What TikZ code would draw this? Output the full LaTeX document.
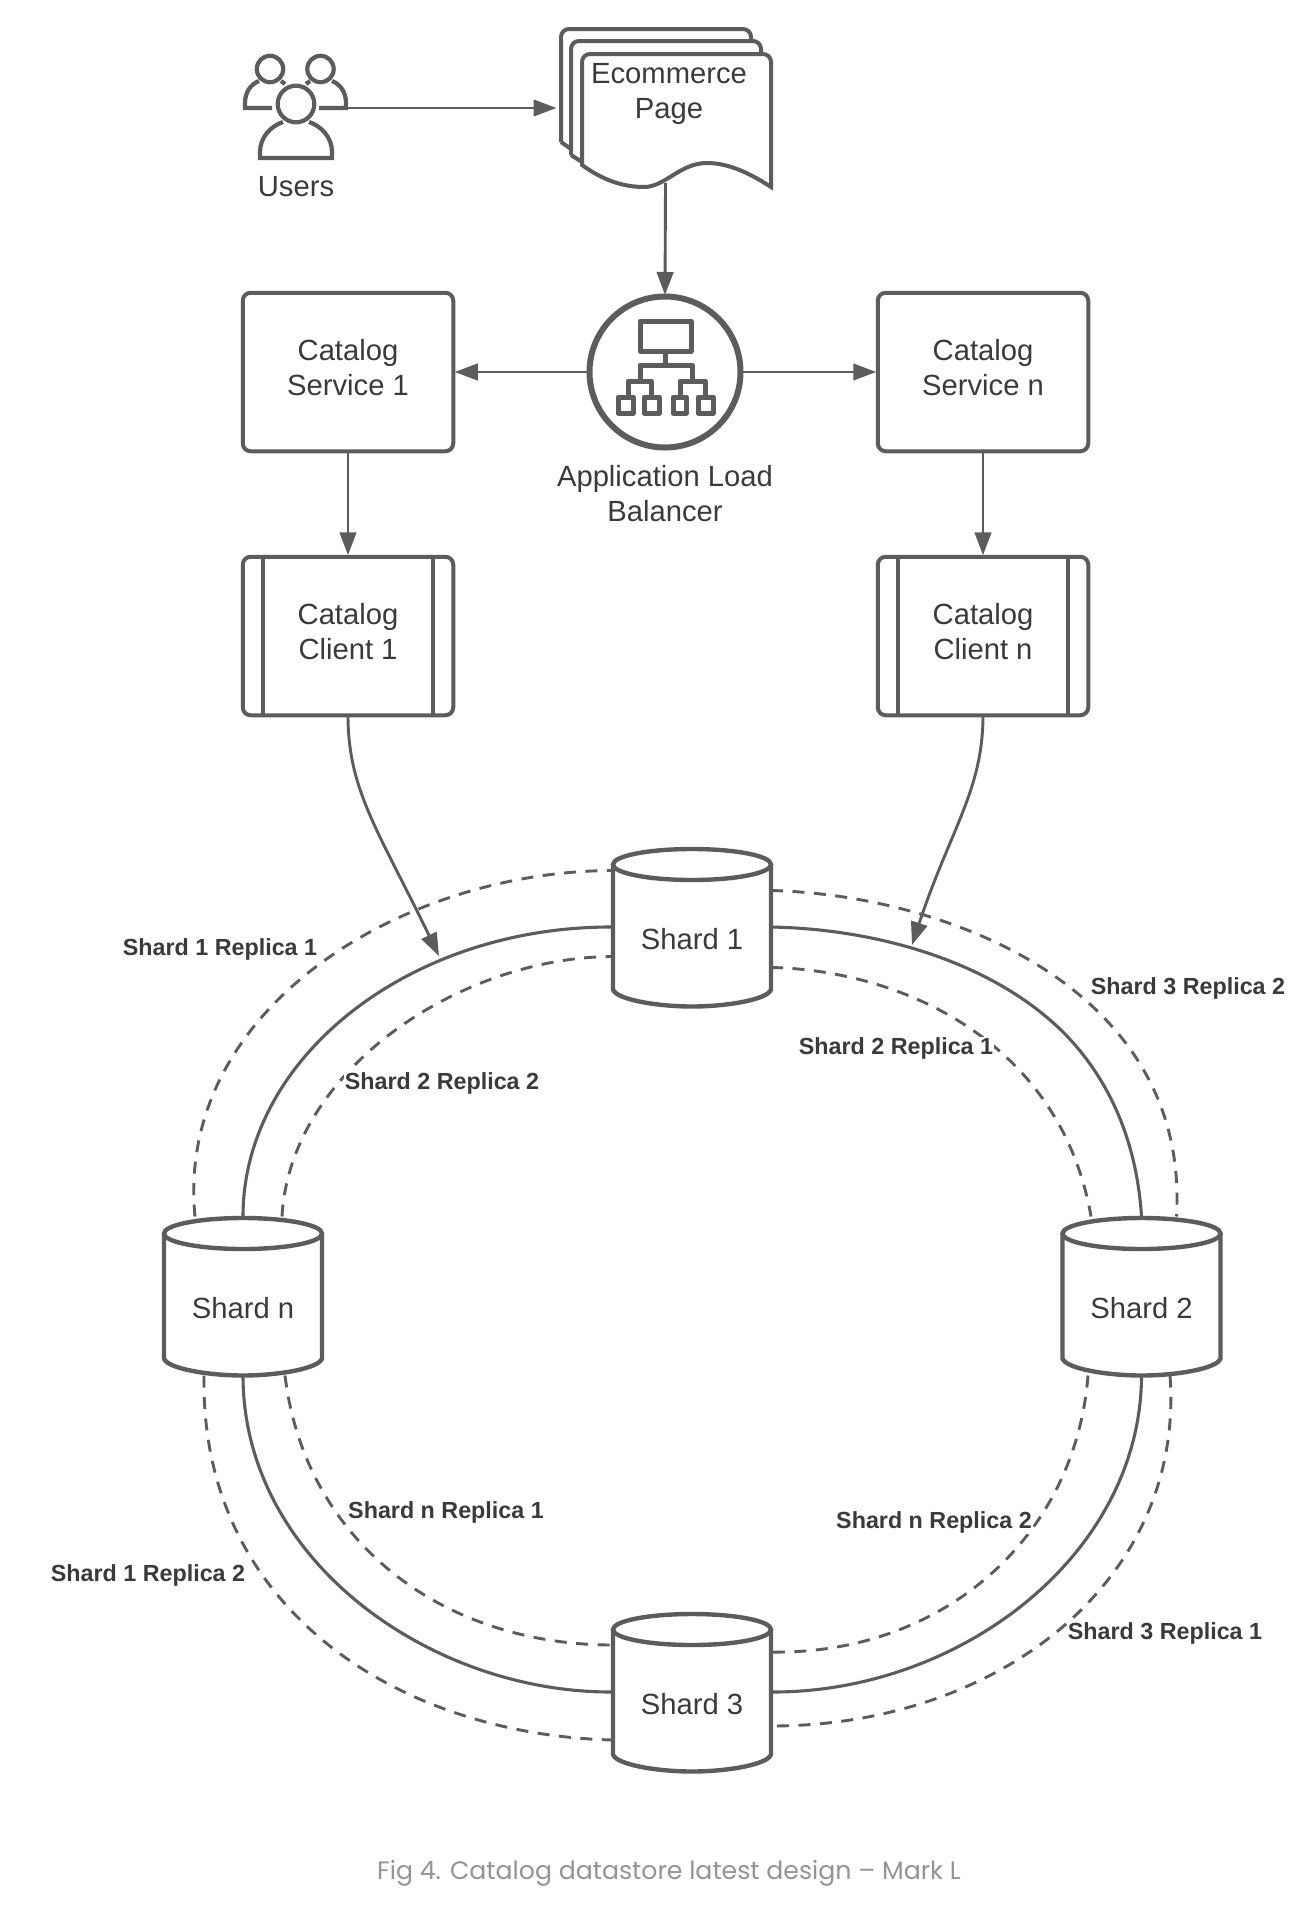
\documentclass[tikz,border=0pt]{standalone}
\usepackage{fontspec}
\setmainfont{Liberation Sans}
\newfontfamily\capfont{Poppins}
\usetikzlibrary{arrows.meta,calc}
\definecolor{ink}{HTML}{5C5C5C}
\definecolor{txt}{HTML}{3A3A3A}
\definecolor{cap}{HTML}{949494}
\newcommand{\lowpad}{\rule[-10pt]{0pt}{10pt}}
\tikzset{
  shape line/.style={draw=ink,line width=4pt,fill=white},
  box/.style={shape line,rounded corners=8pt,minimum width=210.5pt,minimum height=158.5pt,inner sep=0pt,outer sep=0pt,text=txt,align=center,font=\fontsize{29.2}{35}\selectfont},
  plain/.style={text=txt,align=center,inner sep=0pt,font=\fontsize{29.2}{35}\selectfont},
  ghost/.style={inner sep=0pt,outer sep=0pt,text=txt},
  conn/.style={draw=ink,line width=2.9pt,-{Triangle[length=23pt,width=16.5pt]},shorten >=1.5pt},
  ringline/.style={draw=ink,line width=3.1pt},
  dashline/.style={draw=ink,line width=2.9pt,dash pattern=on 12pt off 9.5pt},
  tag/.style={text=txt,fill=white,inner sep=1pt,font=\fontsize{23.3}{28}\selectfont\bfseries},
  icon/.style={draw=ink,line width=4.2pt,line cap=butt},
  albicon/.style={draw=ink,line width=5pt,line join=round},
}
\newcommand{\shardcyl}[4]{%
  \begin{scope}[shift={(#2,#3)}]
    \draw[shape line,line width=4.4pt,line join=round] (-79,17) -- (-79,142) .. controls (-76,152) and (-35,159) .. (0,159) .. controls (35,159) and (76,152) .. (79,142) -- (79,17);
    \draw[shape line,line width=4.4pt] (0,17) ellipse[x radius=79,y radius=15.5];
    \node[ghost,minimum width=158pt,minimum height=159pt] (#1) at (0,79.5) {};
    \node[plain] (#1text) at (0,92) {#4};
  \end{scope}}
\begin{document}
\begin{tikzpicture}[x=1pt,y=-1pt]
\useasboundingbox[fill=white] (0,0) rectangle (1300,1914);

% users
\node[ghost,minimum width=104pt,minimum height=100pt] (users) at (295,108) {};
\node[plain] (userstext) at (296,187) {Users};
\draw[icon] (270,69) circle[radius=13.2];
\draw[icon] (320.5,69) circle[radius=13.2];
\draw[icon] (272,108) -- (245,108) -- (245,103) .. controls (245,92) and (251,84) .. (259,81);
\draw[icon] (319,108) -- (346,108) -- (346,103) .. controls (346,92) and (340,84) .. (332,81);
\draw[icon] (281,81) -- (285,84);
\draw[icon] (310,81) -- (306,84);
\draw[icon] (296,104) circle[radius=18.3];
\draw[icon,line join=miter] (283,122) .. controls (271,126) and (260,137) .. (260,152) -- (260,158) -- (332,158) -- (332,152) .. controls (332,137) and (321,126) .. (309,122);

% ecommerce page stack
\node[ghost,minimum width=215pt,minimum height=150pt] (page) at (665.5,108) {};
\draw[draw=ink,line width=4pt,rounded corners=8pt] (561,142) -- (561,29) -- (751,29) -- (751,50);
\draw[draw=ink,line width=4pt] (561,142) -- (571,149);
\fill[white] (571,41) rectangle (761,155);
\draw[draw=ink,line width=4pt,rounded corners=8pt] (571,155) -- (571,41) -- (761,41) -- (761,60);
\draw[draw=ink,line width=4pt] (571,155) -- (582,162);
\draw[shape line,line join=miter] (582,165) [rounded corners=8pt] -- (582,54) -- (771,54) [sharp corners] -- (771,187) .. controls (745,170) and (725,163) .. (707,163) .. controls (680,163) and (665,187) .. (644,187) .. controls (620,187) and (600,178) .. (582,165) -- cycle;
\node[plain] (pagetext) at (669,93.5) {Ecommerce\\Page};

% load balancer
\node[circle,draw=ink,line width=6pt,fill=white,minimum size=151pt,inner sep=0pt,outer sep=0pt] (alb) at (665,372) {};
\node[plain] (albtext) at (665,494) {Application Load\\Balancer};
\draw[albicon] (640,321) rectangle (691,351);
\draw[albicon] (665,351) -- (665,365);
\draw[albicon] (640,380) -- (640,365) -- (692,365) -- (692,380);
\draw[albicon] (628,396) -- (628,381) -- (651,381) -- (651,396);
\draw[albicon] (680,396) -- (680,381) -- (705,381) -- (705,396);
\draw[albicon] (618,397) rectangle (633,413);
\draw[albicon] (644,397) rectangle (659,413);
\draw[albicon] (673,397) rectangle (686,413);
\draw[albicon] (698,397) rectangle (713,413);

% services and clients
\node[box] (svc1) at (348,372) {Catalog\\Service 1\lowpad};
\node[box] (svcn) at (983,372) {Catalog\\Service n\lowpad};
\node[box] (cli1) at (348,636) {Catalog\\Client 1\lowpad};
\node[box] (clin) at (983,636) {Catalog\\Client n\lowpad};
\foreach \c in {cli1,clin}{
  \draw[draw=ink,line width=4pt] ([xshift=20pt]\c.north west) -- ([xshift=20pt]\c.south west);
  \draw[draw=ink,line width=4pt] ([xshift=-20.5pt]\c.north east) -- ([xshift=-20.5pt]\c.south east);
}

% shards
\shardcyl{s1}{692}{847.5}{Shard 1}
\shardcyl{sn}{243}{1216.5}{Shard n}
\shardcyl{s2}{1141.5}{1216.5}{Shard 2}
\shardcyl{s3}{692}{1612.5}{Shard 3}

% top connectors
\draw[conn] (users.east) -- (page.west);
\draw[conn] (page.south) -- (alb.north);
\draw[conn] (alb.west) -- (svc1.east);
\draw[conn] (alb.east) -- (svcn.west);
\draw[conn] (svc1.south) -- (cli1.north);
\draw[conn] (svcn.south) -- (clin.north);

% solid ring
\draw[ringline] (sn.north) .. controls (243,1057) and (410,926) .. (s1.west);
\coordinate (bend) at (1064,1033);
\draw[ringline] (s1.east) .. controls (880,929) and (994,963) .. (bend) .. controls (1120,1090) and (1138,1160) .. (s2.north);
\draw[ringline] (s2.south) .. controls (1141,1555) and (960,1693) .. (s3.east);
\draw[ringline] (sn.south) .. controls (243,1560) and (430,1693) .. (s3.west);

% dashed replicas
\draw[dashline] ([xshift=-48pt]sn.north) .. controls (175,1010) and (400,871) .. ([yshift=56.5pt]s1.west);
\draw[dashline] ([xshift=39pt]sn.north) .. controls (290,1070) and (460,957) .. ([yshift=-29.5pt]s1.west);
\draw[dashline] ([yshift=36.5pt]s1.east) .. controls (950,895) and (1190,990) .. ([xshift=35pt]s2.north);
\draw[dashline] ([yshift=-40.5pt]s1.east) .. controls (900,970) and (1060,1040) .. ([xshift=-50.5pt]s2.north);
\draw[dashline] ([xshift=-53.5pt]s2.south) .. controls (1075,1540) and (940,1655) .. ([yshift=40pt]s3.east);
\draw[dashline] ([xshift=28.5pt]s2.south) .. controls (1185,1580) and (1000,1726) .. ([yshift=-34pt]s3.east);
\draw[dashline] ([xshift=42pt]sn.south) .. controls (305,1540) and (440,1645) .. ([yshift=47pt]s3.west);
\draw[dashline] ([xshift=-39pt]sn.south) .. controls (200,1610) and (400,1735) .. ([yshift=-48pt]s3.west);

% client feeds
\coordinate (feed1) at (439,956);
\coordinate (feedn) at (912,945);
\draw[conn,shorten >=0pt] (cli1.south) .. controls (348,790) and (378,830) .. (feed1);
\draw[conn,shorten >=0pt] (clin.south) .. controls (983,790) and (950,830) .. (feedn);

% labels
\node[tag] (l1) at (220,949) {Shard 1 Replica 1};
\node[tag] (l2) at (442,1083) {Shard 2 Replica 2};
\node[tag] (l3) at (1188,988) {Shard 3 Replica 2};
\node[tag] (l4) at (896,1048.5) {Shard 2 Replica 1};
\node[tag] (l5) at (934,1522.5) {Shard n Replica 2};
\node[tag] (l6) at (1165,1633.5) {Shard 3 Replica 1};
\node[tag] (l7) at (446,1512.5) {Shard n Replica 1};
\node[tag] (l8) at (148,1575.5) {Shard 1 Replica 2};

% caption
\node[inner sep=0pt,text=cap,font=\capfont\fontsize{25.2}{30}\selectfont] (caption) at (669,1873) {Fig 4. Catalog datastore latest design – Mark L};
\end{tikzpicture}
\end{document}
